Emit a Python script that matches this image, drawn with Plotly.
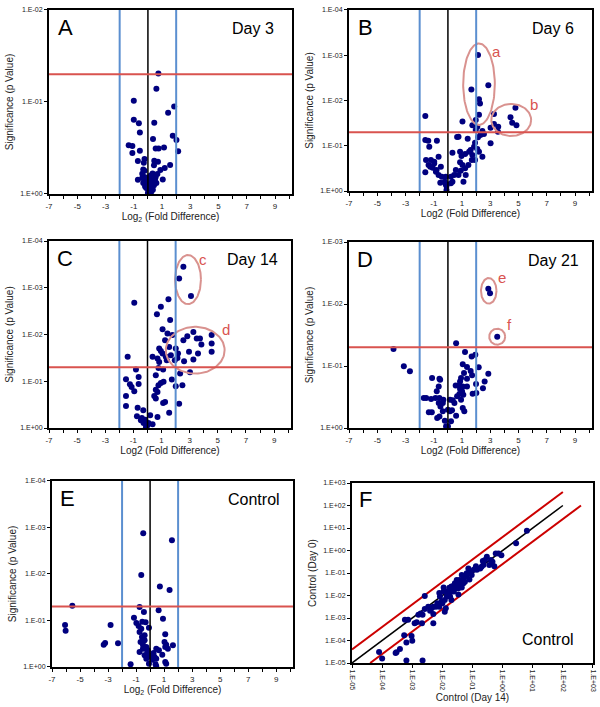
import numpy as np
import plotly.graph_objects as go

# ---- data ----
# volcano panels: log2 fold difference and p value
a_fold = [0.74, 0.60, -1.0, 1.86, 1.43, -1.0, -0.64, 0.45, -0.57, 1.76,
          2.02, 0.36, -1.36, -1.1, -1.1, -0.57, 0.55, 0.76, 1.14, 2.14,
          -0.24, -0.71, -0.29, 0.45, 0.71, 1.57, 1.19, 0.43, -0.33, -0.24,
          0.88, -0.40, 0.33, 0.67, 0.55, 1.05, -0.71, -0.24, -0.05, -0.33,
          0.31, -0.02, 0.43, -0.12, 0.19, 0.07, 0.24, 0.0, 0.14, 0.1,
          0.3, -0.15, 0.5, 0.2, -0.4, 0.05, 0.15, 0.35, 0.6, -0.2, 0.25]
a_p = [0.049, 0.072, 0.097, 0.112, 0.131, 0.156, 0.170, 0.168, 0.214, 0.233,
       0.259, 0.253, 0.296, 0.301, 0.359, 0.339, 0.320, 0.320, 0.312, 0.344,
       0.417, 0.438, 0.457, 0.435, 0.446, 0.484, 0.522, 0.488, 0.540, 0.558,
       0.550, 0.601, 0.597, 0.607, 0.655, 0.694, 0.699, 0.655, 0.699, 0.760,
       0.747, 0.792, 0.805, 0.861, 0.847, 0.912, 0.943, 0.975, 0.645, 0.88,
       0.82, 0.72, 0.70, 0.63, 0.67, 0.95, 0.98, 0.90, 0.76, 0.83, 0.72]

b_fold = [2.13, 2.86, 1.66, 2.20, 2.27, 2.20, 4.78, 4.43, 4.55, 4.85,
          3.26, 3.26, 3.56, 3.54, 3.02, -1.60, 1.03, 1.73, 1.97, 2.08,
          2.44, 2.55, 2.30, 2.13, 1.92, 1.40, 0.75, 0.65, -1.60, -1.39,
          -0.78, -1.32, 3.02, 1.85, 2.08, 2.20, 2.44, 1.61, 1.50, 0.86,
          0.96, 0.32, 1.22, 1.73, 1.69, 1.92, 0.86, 1.03, 1.45, 1.22,
          0.91, 0.56, 0.44, 0.21, -0.15, -0.43, 0.75, 1.26, 1.10, 0.21,
          0.32, -0.22, -0.54, -0.15, -0.10, -0.10, -1.55, -1.20, -0.97, -1.37,
          -1.60, -1.25, -1.08, -0.80, -0.50, -0.66, -0.85, -0.66, -0.97, 1.97]
b_p = [0.00099, 0.0046, 0.0057, 0.0094, 0.0116, 0.0206, 0.0144, 0.0235, 0.031, 0.035,
       0.0199, 0.033, 0.038, 0.049, 0.040, 0.022, 0.029, 0.035, 0.045, 0.038,
       0.047, 0.055, 0.058, 0.065, 0.086, 0.070, 0.063, 0.064, 0.075, 0.077,
       0.077, 0.105, 0.088, 0.105, 0.118, 0.135, 0.174, 0.124, 0.135, 0.135,
       0.169, 0.142, 0.152, 0.160, 0.206, 0.206, 0.232, 0.266, 0.266, 0.315,
       0.355, 0.343, 0.443, 0.482, 0.482, 0.482, 0.443, 0.443, 0.622, 0.677,
       0.622, 0.622, 0.654, 0.713, 0.776, 0.95, 0.206, 0.206, 0.225, 0.266,
       0.386, 0.290, 0.305, 0.343, 0.290, 0.174, 0.374, 0.443, 0.245, 0.027]

c_fold = [2.55, 2.25, 3.09, -0.94, 1.49, 0.95, 0.67, 1.61, 1.07, 1.42,
          1.77, 3.26, 2.83, 2.55, 3.50, 3.73, 4.56, 4.56, 4.56, 3.83,
          2.95, 3.59, 3.26, 2.60, 3.02, 2.01, 1.54, 1.25, 0.83, 0.95,
          1.07, 1.30, 1.37, 1.66, 2.17, 2.13, 1.94, 0.36, 0.71, 0.83,
          -1.41, 0.78, 1.11, 0.59, 2.32, 2.01, 2.48, 1.73, 1.14, 0.95,
          0.78, 0.59, 0.71, 0.48, 0.59, 1.11, 1.25, 2.25, -0.82, -0.63,
          -1.53, -1.25, -1.13, -0.94, -0.63, -1.53, -1.53, -0.70, -0.30, -0.75,
          -0.40, -0.16, -0.28, 0.0, -0.11, 0.19, 0.71, 1.54, 0.36, 0.07, -0.47]
c_p = [0.000355, 0.00063, 0.0015, 0.0021, 0.00175, 0.00255, 0.0037, 0.0049, 0.0077, 0.0095,
       0.0103, 0.0088, 0.0109, 0.0132, 0.0122, 0.0122, 0.0103, 0.0156, 0.0235, 0.0164,
       0.0235, 0.0255, 0.0343, 0.0373, 0.064, 0.020, 0.0184, 0.0132, 0.020, 0.0224,
       0.0255, 0.030, 0.0355, 0.0277, 0.0255, 0.0316, 0.0355, 0.030, 0.0327, 0.0385,
       0.030, 0.0518, 0.056, 0.074, 0.0685, 0.128, 0.122, 0.092, 0.103, 0.109,
       0.122, 0.151, 0.169, 0.206, 0.235, 0.291, 0.277, 0.301, 0.056, 0.081,
       0.091, 0.116, 0.132, 0.164, 0.114, 0.206, 0.338, 0.367, 0.418, 0.562,
       0.611, 0.663, 0.781, 0.877, 0.952, 0.535, 0.581, 0.469, 0.834, 0.781, 0.685]

d_fold = [2.86, 2.98, 3.49, 0.58, -3.85, -3.12, -2.69, 1.21, 1.68, 1.94,
          1.05, 1.35, 2.18, 1.61, 1.71, 1.14, 0.93, 1.35, 0.86, 0.55,
          0.76, 1.05, 1.35, 1.99, 2.86, 2.60, 2.48, 2.01, 1.75, 0.86,
          1.0, 1.09, 0.81, 0.65, 0.93, 0.46, 0.34, 0.15, 1.05, 1.16,
          0.58, 0.0, 0.15, 0.29, 0.22, -0.22, 0.0, -0.13, -1.12, -0.60,
          -0.55, -0.65, -0.79, -1.54, -1.71, -1.19, -0.88, -0.60, -0.32, -0.36,
          -0.65, -0.53, -1.35, -1.14, -0.76, -0.60, -0.36]
d_p = [0.00566, 0.00673, 0.0336, 0.043, 0.053, 0.101, 0.122, 0.0594, 0.070, 0.0656,
       0.094, 0.104, 0.105, 0.120, 0.141, 0.130, 0.156, 0.160, 0.177, 0.207,
       0.207, 0.213, 0.213, 0.195, 0.133, 0.177, 0.229, 0.272, 0.279, 0.235,
       0.256, 0.290, 0.283, 0.308, 0.349, 0.395, 0.358, 0.349, 0.476, 0.538,
       0.632, 0.506, 0.538, 0.519, 0.780, 0.762, 0.940, 0.94, 0.156, 0.160,
       0.166, 0.213, 0.256, 0.328, 0.328, 0.340, 0.328, 0.328, 0.349, 0.395,
       0.395, 0.448, 0.559, 0.559, 0.690, 0.649, 0.538]

e_fold = [-0.49, 1.56, -0.63, 0.70, 1.39, -5.55, -0.75, -0.44, 0.61, 0.92,
          -1.15, -6.07, -6.03, -2.82, -0.98, -0.82, -0.56, -0.32, -0.08, -0.63,
          -0.75, -0.39, -0.58, 1.08, 1.03, 1.15, 1.08, 1.63, 1.27, -3.31,
          -3.21, -2.29, -0.68, -0.51, -0.51, -0.27, -0.75, -0.15, 0.08, 0.25,
          0.44, 0.63, 0.87, 0.32, 0.16, 0.44, -0.08, 0.39, 1.08, 1.15,
          -1.39, -0.27, -0.39, -0.03, -0.20, -0.39, 0.44]
e_p = [0.00133, 0.00189, 0.0105, 0.0187, 0.0221, 0.048, 0.0513, 0.0657, 0.0604, 0.0914,
       0.0869, 0.125, 0.166, 0.125, 0.113, 0.131, 0.106, 0.109, 0.143, 0.150,
       0.177, 0.208, 0.226, 0.198, 0.290, 0.331, 0.372, 0.342, 0.404, 0.331,
       0.305, 0.310, 0.290, 0.331, 0.404, 0.372, 0.476, 0.438, 0.561, 0.500,
       0.404, 0.438, 0.543, 0.610, 0.695, 0.662, 0.848, 0.877, 0.780, 0.848,
       0.877, 0.662, 0.561, 0.590, 0.476, 0.267, 0.967]

# panel F: control day 14 vs control day 0
f_day14 = [6.4, 2.8, 0.91, 0.73, 0.59, 0.53, 0.46, 0.36, 0.41, 0.22,
           0.23, 0.18, 0.20, 0.14, 0.11, 0.094, 0.083, 0.061, 0.050, 0.044,
           0.056, 0.040, 0.037, 0.030, 0.026, 0.024, 0.034, 0.023, 0.034, 0.020,
           0.014, 0.016, 0.014, 0.018, 0.011, 0.012, 0.0094, 0.0083, 0.0079, 0.011,
           0.013, 0.012, 0.0079, 0.0061, 0.0050, 0.0044, 0.0034, 0.0026, 0.0026, 0.0019,
           0.0022, 0.0016, 0.0012, 0.00073, 0.0021, 0.0050, 0.00057, 0.00054, 0.00095, 0.0010,
           0.00064, 0.00039, 0.00030, 0.00028, 0.000079, 0.00010, 0.00064, 0.0022, 0.30, 0.26,
           0.13, 0.073, 0.064, 0.050, 0.030, 0.020, 0.017, 0.024, 0.028, 0.044,
           0.079, 0.020, 0.010, 0.0068, 0.0050, 0.0039, 0.0014]
f_day0 = [7.5, 2.1, 0.61, 0.74, 0.74, 0.20, 0.32, 0.23, 0.38, 0.34,
          0.23, 0.16, 0.19, 0.14, 0.14, 0.081, 0.11, 0.074, 0.058, 0.081,
          0.041, 0.033, 0.049, 0.049, 0.035, 0.027, 0.021, 0.018, 0.011, 0.015,
          0.015, 0.011, 0.0090, 0.0090, 0.015, 0.0064, 0.0054, 0.0090, 0.013, 0.023,
          0.0027, 0.0019, 0.0032, 0.0032, 0.0032, 0.0027, 0.0032, 0.0096, 0.0025, 0.0016,
          0.0014, 0.0014, 0.00059, 0.00083, 0.00059, 0.00059, 0.00083, 0.00017, 0.00016, 0.000098,
          0.000082, 0.000042, 0.000030, 0.000028, 0.000031, 0.000016, 0.000013, 0.000013, 0.53, 0.38,
          0.20, 0.16, 0.097, 0.035, 0.029, 0.025, 0.022, 0.015, 0.021, 0.023,
          0.052, 0.0064, 0.0045, 0.0045, 0.0015, 0.0021, 0.00065]

fold_cut = 2        # log2 fold thresholds (blue lines)
p_cut = 0.05        # significance threshold (red line)

NAVY = "#00007f"
BLUE = "#5b8fd0"
RED = "#d9534f"
PINK = "#d9928f"
FONT = "Arial, Liberation Sans, sans-serif"

panels = [
    # letter, label, fold, p, decades, x domain, y domain, x title
    ("A", "Day 3", a_fold, a_p, 2, [0.0817, 0.4867], [0.7256, 0.9859], "Log<sub>2</sub> (Fold Difference)"),
    ("B", "Day 6", b_fold, b_p, 4, [0.5817, 0.9867], [0.7298, 0.9859], "Log2 (Fold Difference)"),
    ("C", "Day 14", c_fold, c_p, 4, [0.0817, 0.485], [0.3946, 0.6591], "Log2 (Fold Difference)"),
    ("D", "Day 21", d_fold, d_p, 3, [0.5817, 0.9867], [0.3946, 0.6577], "Log2 (Fold Difference)"),
    ("E", "Control", e_fold, e_p, 4, [0.0867, 0.4883], [0.0566, 0.3197], "Log<sub>2</sub> (Fold Difference)"),
]

# circled groups: panel index, label, centre (log2, log10 p), radii, label position
groups = [
    (1, "a", 2.20, -2.36, 1.12, 0.90, 3.42, -3.08),
    (1, "b", 4.48, -1.57, 1.41, 0.354, 6.07, -1.915),
    (2, "c", 2.88, -3.175, 0.92, 0.525, 3.97, -3.61),
    (2, "d", 3.39, -1.664, 2.09, 0.50, 5.55, -2.11),
    (3, "e", 2.89, -2.212, 0.55, 0.207, 3.82, -2.43),
    (3, "f", 3.49, -1.473, 0.565, 0.129, 4.39, -1.667),
]

fig = go.Figure()
layout = dict(width=600, height=707, autosize=False, margin=dict(l=0, r=0, t=0, b=0),
              paper_bgcolor="white", plot_bgcolor="white", showlegend=False,
              font=dict(family=FONT, color="#222"), shapes=[], annotations=[])

frame = dict(ticks="outside", ticklen=3, tickcolor="black", showgrid=False, zeroline=False,
             showline=True, mirror=True, linewidth=2, linecolor="black", automargin=False)


def label(text, ref, x, y, size, color="black"):
    return dict(text=text, xref=ref[0], yref=ref[1], x=x, y=y, showarrow=False,
                xanchor="center", yanchor="middle", font=dict(size=size, color=color))


xt = list(range(-7, 11))
xtt = [str(v) if v % 2 else "" for v in xt]

for i, (letter, day, fold, p, dec, xd, yd, xtitle) in enumerate(panels):
    n = "" if i == 0 else str(i + 1)
    xa, ya = "x" + n, "y" + n
    layout["xaxis" + n] = dict(frame, domain=xd, anchor=ya, range=[-7, 10.2], tickvals=xt, ticktext=xtt,
                               tickfont=dict(size=8, color="#222"),
                               title=dict(text=xtitle, font=dict(size=10, color="#222"), standoff=3))
    yv = [10.0 ** -k for k in range(dec + 1)]
    ytt = ["1.E+00"] + ["1.E-%02d" % k for k in range(1, dec + 1)]
    layout["yaxis" + n] = dict(frame, domain=yd, anchor=xa, type="log", range=[0, -dec], tickvals=yv, ticktext=ytt,
                               tickfont=dict(size=7, color="#222"),
                               title=dict(text="Significance (p Value)", font=dict(size=10, color="#222"), standoff=5))
    for xv, col in [(-fold_cut, BLUE), (fold_cut, BLUE), (0, "black")]:
        layout["shapes"].append(dict(type="line", xref=xa, yref=ya + " domain", x0=xv, x1=xv, y0=0, y1=1,
                                     line=dict(color=col, width=2 if col == BLUE else 1.5)))
    layout["shapes"].append(dict(type="line", xref=xa + " domain", yref=ya, x0=0, x1=1, y0=p_cut, y1=p_cut,
                                 line=dict(color=RED, width=2)))
    fig.add_trace(go.Scatter(x=fold, y=p, mode="markers", xaxis=xa, yaxis=ya,
                             marker=dict(color=NAVY, size=6)))
    dref = (xa + " domain", ya + " domain")
    layout["annotations"].append(label(letter, dref, 0.066, 0.905, 22))
    layout["annotations"].append(label(day, dref, 0.84, 0.9, 16))

t = np.linspace(0, 2 * np.pi, 120)
for pi, lab, cx, cy, rx, ry, lx, ly in groups:
    n = "" if pi == 0 else str(pi + 1)
    fig.add_trace(go.Scatter(x=cx + rx * np.cos(t), y=10 ** (cy + ry * np.sin(t)), mode="lines",
                             xaxis="x" + n, yaxis="y" + n, line=dict(color=PINK, width=2), hoverinfo="skip"))
    layout["annotations"].append(label(lab, ("x" + n, "y" + n), lx, ly, 15, RED))

# panel F
ft = [10.0 ** k for k in range(-5, 4)]
ftt = ["1.E-%02d" % -k if k < 0 else "1.E+%02d" % k for k in range(-5, 4)]
layout["xaxis6"] = dict(frame, type="log", range=[-5, 3], tickvals=ft, ticktext=ftt,
                        tickfont=dict(size=7, color="#222"), domain=[0.5867, 0.9883], anchor="y6", tickangle=90,
                        title=dict(text="Control (Day 14)", font=dict(size=10, color="#222"), standoff=2))
layout["yaxis6"] = dict(frame, type="log", range=[-5, 3], tickvals=ft, ticktext=ftt,
                        tickfont=dict(size=7, color="#222"), domain=[0.0622, 0.3168], anchor="x6",
                        title=dict(text="Control (Day 0)", font=dict(size=10, color="#222"), standoff=5))

ref = np.array([1e-5, 1e2])
fold4 = 2 ** fold_cut
fig.add_trace(go.Scatter(x=ref, y=ref, mode="lines", xaxis="x6", yaxis="y6", line=dict(color="black", width=1.5)))
fig.add_trace(go.Scatter(x=ref, y=ref * fold4, mode="lines", xaxis="x6", yaxis="y6", line=dict(color="#cc0000", width=2)))
fig.add_trace(go.Scatter(x=ref * fold4, y=ref, mode="lines", xaxis="x6", yaxis="y6", line=dict(color="#cc0000", width=2)))
fig.add_trace(go.Scatter(x=f_day14, y=f_day0, mode="markers", xaxis="x6", yaxis="y6",
                         marker=dict(color=NAVY, size=6)))
fref = ("x6 domain", "y6 domain")
layout["annotations"].append(label("F", fref, 0.056, 0.91, 22))
layout["annotations"].append(label("Control", fref, 0.813, 0.133, 16))

fig.update_layout(layout)
# drop the page's default body margin so the 600x707 figure fills the window exactly
fig.write_html("out.html", config={"displayModeBar": False},
               post_script="document.body.style.margin='0';")
